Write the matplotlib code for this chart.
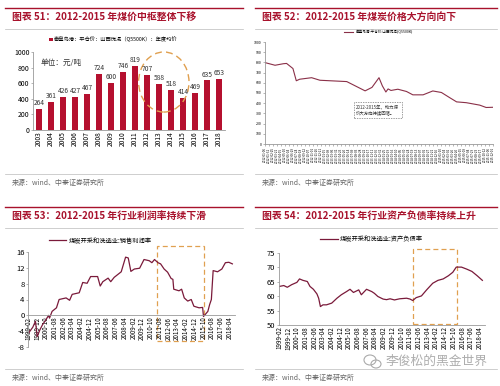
import matplotlib
matplotlib.use("Agg")
import matplotlib.pyplot as plt
import matplotlib.dates as mdates
from matplotlib.patches import Ellipse, Rectangle
from matplotlib.lines import Line2D
import pandas as pd

plt.rcParams['font.family'] = ['Noto Sans CJK SC', 'DejaVu Sans']
plt.rcParams['axes.unicode_minus'] = False

# 图表51：秦皇岛港平仓价年度均价
years = ['2003', '2004', '2005', '2006', '2007', '2008', '2009', '2010',
         '2011', '2012', '2013', '2014', '2015', '2016', '2017', '2018']
annual_price = [264, 361, 426, 427, 467, 724, 600, 746,
                819, 707, 588, 518, 414, 469, 635, 653]

# 图表52：动力煤价格走势
price_dates = ['2012-01-06', '2012-03-09', '2012-04-30', '2012-05-20', '2012-06-29',
               '2012-07-20', '2012-08-10', '2012-10-24', '2012-12-15', '2013-02-17',
               '2013-06-01', '2013-09-24', '2013-11-06', '2013-12-20', '2014-01-10',
               '2014-02-01', '2014-02-15', '2014-03-05', '2014-04-17', '2014-06-10',
               '2014-07-20', '2014-09-22', '2014-11-22', '2015-01-15', '2015-03-06',
               '2015-04-20', '2015-06-20', '2015-09-12', '2015-10-22', '2015-12-04']
price_values = [798, 772, 787, 790, 740, 620, 635, 650, 625, 620,
                612, 521, 555, 650, 570, 510, 540, 525, 537, 515,
                482, 482, 520, 505, 456, 413, 405, 381, 358, 360]

# 图表53：销售利润率
margin_dates = ['1999-02', '1999-07', '1999-10', '1999-12', '2000-03', '2000-06', '2000-10',
                '2001-01', '2001-02', '2001-05', '2001-10', '2002-01', '2002-09', '2003-01',
                '2003-04', '2003-12', '2004-04', '2004-09', '2005-01', '2005-09', '2005-12',
                '2006-03', '2006-09', '2006-12', '2007-04', '2007-12', '2008-05', '2008-08',
                '2008-11', '2009-03', '2009-09', '2010-02', '2010-08', '2010-11', '2011-02',
                '2011-06', '2011-09', '2012-01', '2012-05', '2012-09', '2012-11', '2012-12',
                '2013-06', '2013-09', '2013-12', '2014-04', '2014-08', '2014-11', '2015-05',
                '2015-09', '2015-10', '2016-03', '2016-05', '2016-07', '2016-09', '2017-02',
                '2017-07', '2017-11', '2018-03', '2018-07']
margin_values = [-4.5, -3.0, -1.5, -5.4, -3.7, -2.4, -1.1,
                 0.0, -0.7, 1.0, 1.9, 4.0, 4.4, 3.8,
                 5.3, 5.7, 8.3, 8.1, 9.8, 9.8, 7.4,
                 8.5, 9.4, 8.5, 9.6, 11.0, 14.7, 14.5,
                 11.1, 11.7, 11.9, 14.1, 13.8, 13.3, 14.1,
                 13.3, 13.0, 11.7, 10.9, 9.3, 9.1, 6.6,
                 6.2, 6.6, 4.4, 3.6, 4.0, 2.3, 1.9,
                 2.0, -0.3, 1.0, 2.7, 4.0, 11.3, 11.0,
                 11.7, 13.3, 13.4, 13.0]

# 图表54：资产负债率
debt_dates = ['1999-02', '1999-07', '1999-11', '2000-04', '2000-10', '2001-01', '2001-05',
              '2001-10', '2002-01', '2002-05', '2002-09', '2002-11', '2003-01', '2003-04',
              '2003-08', '2004-02', '2004-08', '2005-01', '2005-07', '2005-11', '2006-03',
              '2006-09', '2006-12', '2007-06', '2007-12', '2008-03', '2008-07', '2009-01',
              '2009-05', '2009-09', '2010-02', '2010-08', '2011-04', '2011-08', '2011-11',
              '2012-03', '2012-09', '2013-03', '2013-10', '2014-04', '2014-10', '2015-04',
              '2015-09', '2016-01', '2016-07', '2017-01', '2017-07', '2018-01', '2018-07']
debt_values = [63.4, 63.7, 63.1, 64.0, 64.8, 66.0, 65.5,
               65.1, 63.4, 62.4, 60.8, 59.3, 56.4, 57.0,
               57.0, 57.6, 59.3, 60.5, 61.6, 62.4, 61.3,
               62.2, 60.5, 62.4, 61.6, 61.0, 59.9, 59.0,
               58.8, 59.1, 58.7, 59.1, 59.3, 59.0, 58.5,
               59.5, 60.1, 62.2, 64.5, 65.5, 66.0, 67.1,
               68.3, 70.1, 70.1, 69.4, 68.6, 67.1, 65.5]

month_ticks = pd.date_range('1999-02-01', periods=24, freq='10MS')

TITLE_RED = '#A8122C'
BAR_RED = '#B5102F'
LINE_RED = '#7A1A3A'
BOX_ORANGE = '#E0A050'

W, H = 500, 386
fig = plt.figure(figsize=(5, 3.86), dpi=100)


def rect(x0, y0, x1, y1):
    # pixel box -> figure fraction
    return [x0 / W, 1 - y1 / H, (x1 - x0) / W, (y1 - y0) / H]


def hline(y, x0, x1, color, lw):
    fig.add_artist(Line2D([x0 / W, x1 / W], [1 - y / H, 1 - y / H],
                          transform=fig.transFigure, color=color, lw=lw))


def header(x, y, title, src_y, x1):
    hline(y - 9, x - 7, x1, TITLE_RED, 1.0)
    fig.text(x / W, 1 - y / H, title, fontsize=7.1, fontweight='bold',
             color=TITLE_RED, va='center', ha='left')
    hline(y + 12, x - 7, x1, '#BBBBBB', 0.5)
    hline(src_y - 9, x - 7, x1, '#BBBBBB', 0.5)
    fig.text(x / W, 1 - src_y / H, '来源：wind、中泰证券研究所', fontsize=5,
             color='#666666', va='center', ha='left')


def style_axes(ax, size):
    for s in ['top', 'right']:
        ax.spines[s].set_visible(False)
    for s in ['left', 'bottom']:
        ax.spines[s].set_color('#999999')
        ax.spines[s].set_linewidth(0.6)
    ax.tick_params(labelsize=size, length=1.5, width=0.5, color='#999999', pad=1)


def chart51():
    header(12, 17, '图表 51：2012-2015 年煤价中枢整体下移', 183, 243)
    ax = fig.add_axes(rect(33, 52, 225, 130))
    style_axes(ax, 5)
    ax.bar(range(len(years)), annual_price, width=0.45, color=BAR_RED,
           label='秦皇岛港：平仓价：山西优混（Q5500K）：年度均价')
    for i, v in enumerate(annual_price):
        ax.text(i, v + 25, str(v), ha='center', va='bottom', fontsize=4.8, color='#333333')
    ax.set_xlim(-0.5, len(years) - 0.5)
    ax.set_ylim(0, 1000)
    ax.set_yticks(range(0, 1001, 200))
    ax.set_xticks(range(len(years)))
    ax.set_xticklabels(years, rotation=90, fontsize=4.8)
    ax.tick_params(axis='x', length=0)
    ax.text(0.04, 0.86, '单位：元/吨', transform=ax.transAxes, fontsize=5.5,
            color='#333333', va='center')
    ax.legend(loc='lower center', bbox_to_anchor=(0.42, 1.06), frameon=False,
              fontsize=3.8, handlelength=0.6, handleheight=0.6, handletextpad=0.3)
    ax.add_patch(Ellipse((10.4, 615), 4.2, 770, fill=False, ec=BOX_ORANGE,
                         ls=(0, (5, 3)), lw=1.0, clip_on=False))


def chart52():
    header(262, 17, '图表 52：2012-2015 年煤炭价格大方向向下', 183, 497)
    ax = fig.add_axes(rect(265, 42, 493, 144))
    style_axes(ax, 2.6)
    dates = pd.to_datetime(price_dates)
    ax.plot(dates, price_values, color='#8A3048', lw=0.8,
            label='秦皇岛港:平仓价:山西优混(Q5500K)')
    ax.set_ylim(0, 1000)
    ax.set_yticks(range(0, 1001, 100))
    ax.set_xlim(dates[0], dates[-1])
    ticks = pd.date_range('2012-01-06', '2015-12-04', freq='25D')
    ax.set_xticks(ticks)
    ax.set_xticklabels([t.strftime('%Y-%m-%d') for t in ticks], rotation=90, fontsize=2.2)
    ax.legend(loc='lower center', bbox_to_anchor=(0.5, 1.04), frameon=False,
              fontsize=2.6, handlelength=2.5)
    ax.text(0.40, 0.335, '2012-2015年，动力煤\n价大方向持续回落。', transform=ax.transAxes,
            fontsize=3.2, va='center', ha='left', color='#333333',
            bbox=dict(boxstyle='square,pad=0.6', fc='white', ec='#777777',
                      ls=(0, (2, 1.5)), lw=0.5))


def chart53():
    header(12, 216, '图表 53：2012-2015 年行业利润率持续下滑', 378, 243)
    ax = fig.add_axes(rect(28, 252, 235, 347))
    style_axes(ax, 5.5)
    dates = pd.to_datetime(margin_dates)
    ax.plot(dates, margin_values, color=LINE_RED, lw=0.9, label='煤炭开采和洗选业:销售利润率')
    ax.set_ylim(-8, 16)
    ax.set_yticks(range(-8, 17, 4))
    ax.spines['bottom'].set_position(('data', 0))
    ax.set_xlim(pd.Timestamp('1999-01-15'), pd.Timestamp('2018-10-01'))
    ax.set_xticks(month_ticks)
    ax.set_xticklabels([t.strftime('%Y-%m') for t in month_ticks], rotation=90, fontsize=4.5)
    ax.tick_params(axis='x', length=0)
    x0 = mdates.date2num(pd.Timestamp('2011-05-01'))
    x1 = mdates.date2num(pd.Timestamp('2015-10-15'))
    ax.add_patch(Rectangle((x0, -6.5), x1 - x0, 24, fill=False, ec=BOX_ORANGE,
                           ls=(0, (4, 2.5)), lw=0.9, clip_on=False))
    ax.legend(loc='lower center', bbox_to_anchor=(0.35, 1.02), frameon=False,
              fontsize=4.5, handlelength=2.8, handletextpad=0.4)


def chart54():
    header(262, 216, '图表 54：2012-2015 年行业资产负债率持续上升', 378, 497)
    ax = fig.add_axes(rect(279, 253, 485, 325))
    style_axes(ax, 5.5)
    dates = pd.to_datetime(debt_dates)
    ax.plot(dates, debt_values, color=LINE_RED, lw=0.9, label='煤炭开采和洗选业:资产负债率')
    ax.set_ylim(50, 75)
    ax.set_yticks(range(50, 76, 5))
    ax.set_xlim(pd.Timestamp('1999-01-15'), pd.Timestamp('2018-10-01'))
    ax.set_xticks(month_ticks)
    ax.set_xticklabels([t.strftime('%Y-%m') for t in month_ticks], rotation=90, fontsize=4.5)
    ax.tick_params(axis='x', length=0)
    x0 = mdates.date2num(pd.Timestamp('2011-11-01'))
    x1 = mdates.date2num(pd.Timestamp('2016-02-01'))
    ax.add_patch(Rectangle((x0, 50.3), x1 - x0, 26.1, fill=False, ec=BOX_ORANGE,
                           ls=(0, (4, 2.5)), lw=0.9, clip_on=False))
    ax.legend(loc='lower center', bbox_to_anchor=(0.45, 1.06), frameon=False,
              fontsize=4.5, handlelength=2.8, handletextpad=0.4)


def watermark():
    fig.add_artist(Ellipse((370 / W, 1 - 360 / H), 12 / W, 10 / H, fill=False,
                           ec='#AAAAAA', lw=0.8, transform=fig.transFigure))
    fig.add_artist(Ellipse((376 / W, 1 - 364 / H), 10 / W, 8 / H, fill=False,
                           ec='#AAAAAA', lw=0.8, transform=fig.transFigure))
    fig.text(385 / W, 1 - 361 / H, '李俊松的黑金世界', fontsize=9.2, color='#999999',
             alpha=0.8, va='center', ha='left')


chart51()
chart52()
chart53()
chart54()
watermark()
fig.savefig('out.png', dpi=100)
